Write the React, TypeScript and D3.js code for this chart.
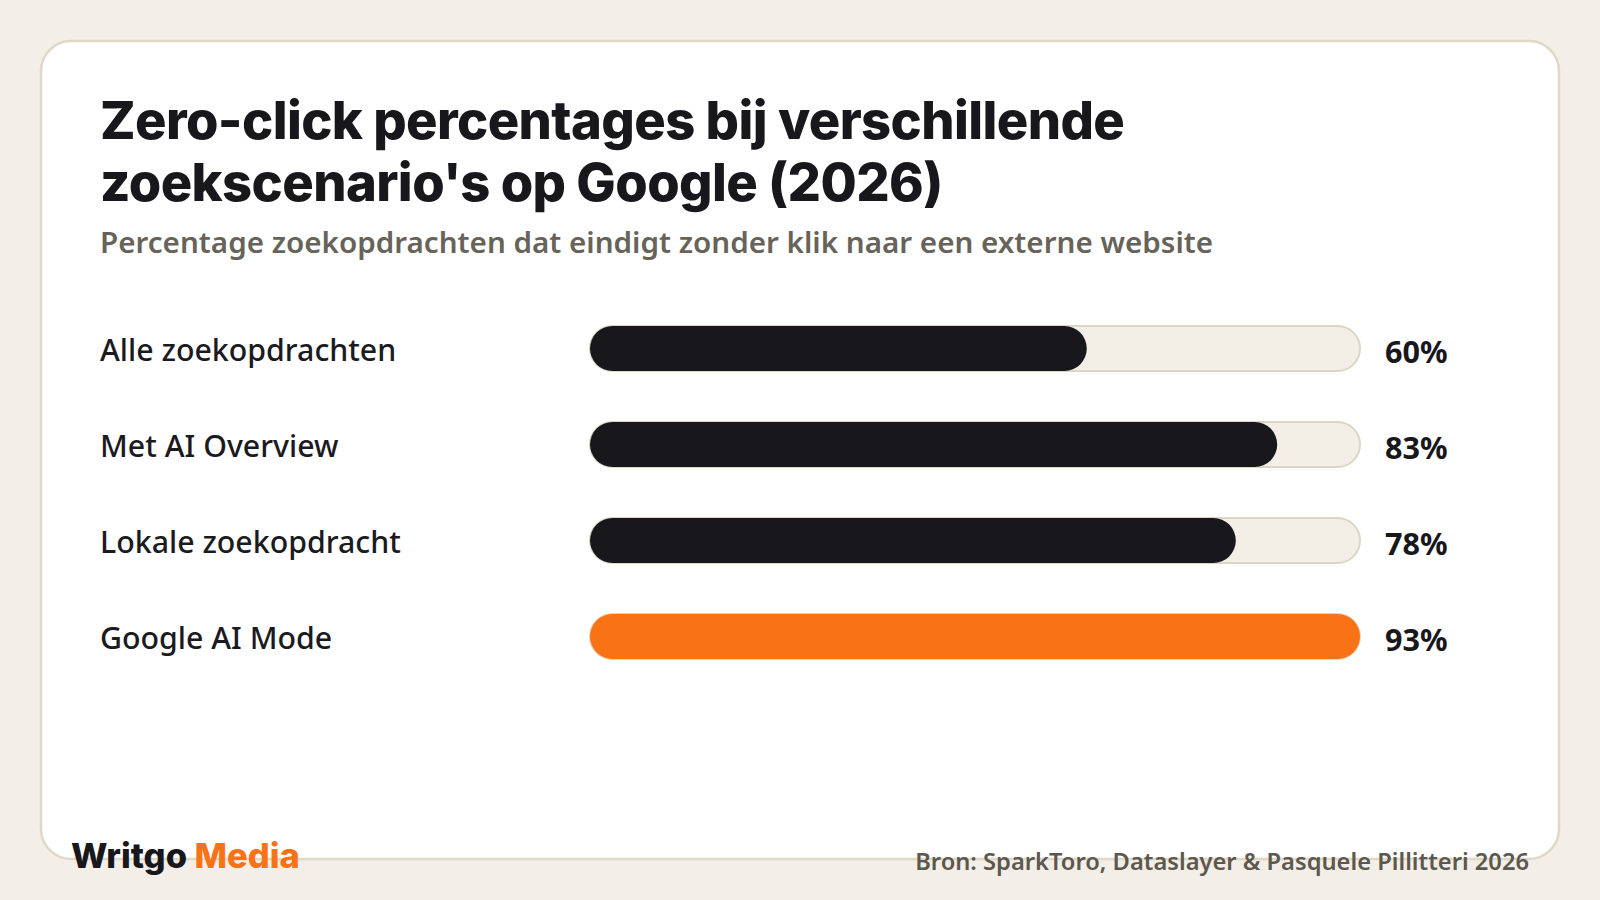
import React from "react";
import * as d3 from "d3";

const categories = ["Alle zoekopdrachten", "Met AI Overview", "Lokale zoekopdracht", "Google AI Mode"];
const values = [60, 83, 78, 93];
const highlight = [false, false, false, true];
const titleLines = ["Zero-click percentages bij verschillende", "zoekscenario's op Google (2026)"];
const subtitle = "Percentage zoekopdrachten dat eindigt zonder klik naar een externe website";
const source = "Bron: SparkToro, Dataslayer & Pasquele Pillitteri 2026";

const W = 1600;
const H = 900;

export default function App() {
  const x = d3.scaleLinear().domain([0, d3.max(values) as number]).range([590, 1360]);
  const y = d3.scaleBand().domain(categories).range([326, 326 + 96 * 4]).paddingInner(0).paddingOuter(0);
  const barH = 45;
  const r = barH / 2;
  const dark = "#17171c";
  const orange = "#f97316";

  return (
    <div style={{ position: "fixed", left: 0, top: 0, width: W, height: H }}>
      <svg width={W} height={H} viewBox={`0 0 ${W} ${H}`} style={{ display: "block" }}>
        <rect x={0} y={0} width={W} height={H} fill="#f3efe8" />
        <rect x={41} y={41} width={1518} height={818} rx={30} ry={30} fill="#ffffff" stroke="#e0d8c6" strokeWidth={2.5} />
        <g fontFamily="Inter, 'Noto Sans', sans-serif" fontWeight={800} fontSize={52.5} fill="#17171c" letterSpacing={-0.6}>
          {titleLines.map((t, i) => (
            <text key={i} x={100} y={139 + i * 62}>{t}</text>
          ))}
        </g>
        <text x={100} y={253} fontFamily="'Noto Sans', sans-serif" fontWeight={600} fontSize={29.6} fill="#67635a">
          {subtitle}
        </text>
        {categories.map((c, i) => {
          const top = y(c) as number;
          const cy = top + barH / 2;
          return (
            <g key={c}>
              <text x={100} y={cy + 2} dy="0.35em" fontFamily="'Noto Sans', sans-serif" fontWeight={500} fontSize={30.3} fill="#1a1a1f">
                {c}
              </text>
              <rect x={x(0)} y={top} width={x(d3.max(values) as number) - x(0)} height={barH} rx={r} ry={r} fill="#f3efe7" stroke="#ddd5c3" strokeWidth={2} />
              <rect x={x(0)} y={top} width={x(values[i]) - x(0)} height={barH} rx={r} ry={r} fill={highlight[i] ? orange : dark} />
              <text x={1385} y={cy + 4} dy="0.35em" fontFamily="'Noto Sans', sans-serif" fontWeight={700} fontSize={30.6} fill="#17171c">
                {values[i]}%
              </text>
            </g>
          );
        })}
        <text x={71} y={868} fontFamily="Inter, sans-serif" fontWeight={800} fontSize={34.5} letterSpacing={0}>
          <tspan fill="#17171c">Writgo </tspan>
          <tspan fill={orange}>Media</tspan>
        </text>
        <text x={1529} y={870} textAnchor="end" fontFamily="'Noto Sans', sans-serif" fontWeight={600} fontSize={23.7} fill="#5d584e">
          {source}
        </text>
      </svg>
    </div>
  );
}
